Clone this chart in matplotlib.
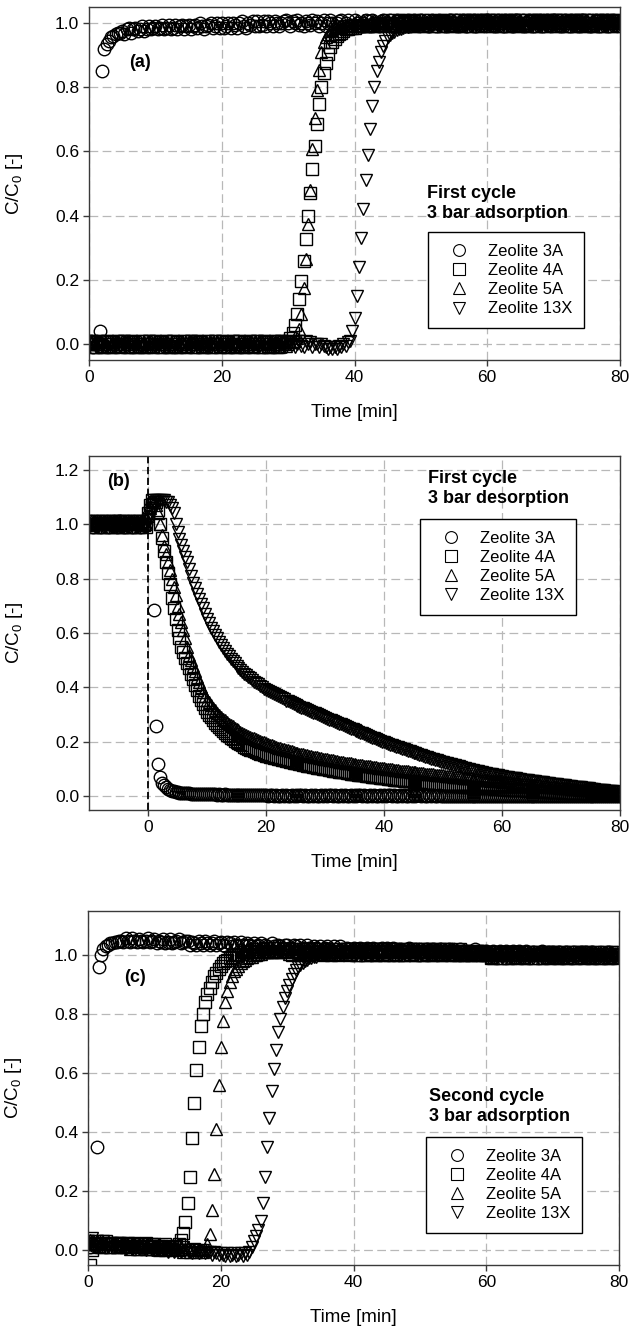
import numpy as np
import matplotlib
matplotlib.use('Agg')
import matplotlib.pyplot as plt

plt.rcParams['font.family'] = ['Liberation Sans', 'DejaVu Sans']
plt.rcParams['mathtext.fontset'] = 'custom'
plt.rcParams['mathtext.rm'] = 'Liberation Sans'

# ---------------- data (20 s sampling) ----------------
labels = ['Zeolite 3A', 'Zeolite 4A', 'Zeolite 5A', 'Zeolite 13X']

# time grid for the adsorption runs (a) and (c)
time_ads = [
    0, 0.33, 0.67, 1, 1.33, 1.67, 2, 2.33, 2.67, 3, 3.33, 3.67, 4, 4.33, 4.67,
    5, 5.33, 5.67, 6, 6.33, 6.67, 7, 7.33, 7.67, 8, 8.33, 8.67, 9, 9.33, 9.67,
    10, 10.33, 10.67, 11, 11.33, 11.67, 12, 12.33, 12.67, 13, 13.33, 13.67, 14, 14.33, 14.67,
    15, 15.33, 15.67, 16, 16.33, 16.67, 17, 17.33, 17.67, 18, 18.33, 18.67, 19, 19.33, 19.67,
    20, 20.33, 20.67, 21, 21.33, 21.67, 22, 22.33, 22.67, 23, 23.33, 23.67, 24, 24.33, 24.67,
    25, 25.33, 25.67, 26, 26.33, 26.67, 27, 27.33, 27.67, 28, 28.33, 28.67, 29, 29.33, 29.67,
    30, 30.33, 30.67, 31, 31.33, 31.67, 32, 32.33, 32.67, 33, 33.33, 33.67, 34, 34.33, 34.67,
    35, 35.33, 35.67, 36, 36.33, 36.67, 37, 37.33, 37.67, 38, 38.33, 38.67, 39, 39.33, 39.67,
    40, 40.33, 40.67, 41, 41.33, 41.67, 42, 42.33, 42.67, 43, 43.33, 43.67, 44, 44.33, 44.67,
    45, 45.33, 45.67, 46, 46.33, 46.67, 47, 47.33, 47.67, 48, 48.33, 48.67, 49, 49.33, 49.67,
    50, 50.33, 50.67, 51, 51.33, 51.67, 52, 52.33, 52.67, 53, 53.33, 53.67, 54, 54.33, 54.67,
    55, 55.33, 55.67, 56, 56.33, 56.67, 57, 57.33, 57.67, 58, 58.33, 58.67, 59, 59.33, 59.67,
    60, 60.33, 60.67, 61, 61.33, 61.67, 62, 62.33, 62.67, 63, 63.33, 63.67, 64, 64.33, 64.67,
    65, 65.33, 65.67, 66, 66.33, 66.67, 67, 67.33, 67.67, 68, 68.33, 68.67, 69, 69.33, 69.67,
    70, 70.33, 70.67, 71, 71.33, 71.67, 72, 72.33, 72.67, 73, 73.33, 73.67, 74, 74.33, 74.67,
    75, 75.33, 75.67, 76, 76.33, 76.67, 77, 77.33, 77.67, 78, 78.33, 78.67, 79, 79.33, 79.67,
    80]

# time grid for the desorption run (b)
time_des = [
    -10, -9.67, -9.33, -9, -8.67, -8.33, -8, -7.67, -7.33, -7, -6.67, -6.33, -6, -5.67, -5.33,
    -5, -4.67, -4.33, -4, -3.67, -3.33, -3, -2.67, -2.33, -2, -1.67, -1.33, -1, -0.67, -0.33,
] + time_ads

# (a) first cycle, 3 bar adsorption
a_3A = [
    0.00, 0.01, -0.01, 0.01, 0.00, 0.04, 0.85, 0.92, 0.935, 0.945, 0.955, 0.96, 0.965, 0.97, 0.97,
    0.975, 0.965, 0.98, 0.985, 0.97, 0.98, 0.985, 0.975, 0.98, 0.99, 0.975, 0.98, 0.99, 0.98, 0.985,
    0.99, 0.98, 0.985, 0.995, 0.98, 0.985, 0.995, 0.98, 0.985, 0.995, 0.98, 0.99, 0.995, 0.98, 0.99,
    0.995, 0.98, 0.99, 0.995, 0.985, 1.00, 0.99, 0.98, 0.99, 0.995, 1.00, 0.985, 0.99, 1.00, 0.985,
    1.00, 0.985, 0.99, 1.00, 0.985, 1.00, 0.995, 0.985, 1.00, 1.005, 0.99, 0.985, 1.00, 0.995, 1.005,
    0.99, 1.005, 0.99, 0.995, 1.005, 0.99, 1.005, 1.00, 0.99, 1.005, 1.00, 0.99, 1.00, 1.005, 1.01,
    1.00, 0.99, 1.005, 1.00, 1.01, 0.995, 1.00, 0.99, 1.005, 1.00, 0.995, 1.01, 1.00, 1.005, 0.99,
    1.00, 1.01, 0.99, 1.00, 1.01, 1.00, 0.99, 1.00, 1.005, 1.01, 0.99, 1.00, 1.01, 0.995, 0.99,
    1.01, 1.00, 0.995, 0.99, 1.00, 1.01, 1.005, 0.99, 1.01, 1.00, 1.00, 0.99, 1.005, 1.01, 1.00,
    1.00, 1.01, 0.99, 1.00, 1.01, 1.00, 0.99, 1.00, 1.005, 1.01, 0.99, 1.00, 1.01, 0.995, 0.99,
    1.01, 1.00, 0.995, 0.99, 1.00, 1.01, 1.005, 0.99, 1.01, 1.00, 1.00, 0.99, 1.005, 1.01, 1.00,
    1.00, 1.01, 0.99, 1.00, 1.01, 1.00, 0.99, 1.00, 1.005, 1.01, 0.99, 1.00, 1.01, 0.995, 0.99,
    1.01, 1.00, 0.995, 0.99, 1.00, 1.01, 1.005, 0.99, 1.01, 1.00, 1.00, 0.99, 1.005, 1.01, 1.00,
    1.00, 1.01, 0.99, 1.00, 1.01, 1.00, 0.99, 1.00, 1.005, 1.01, 0.99, 1.00, 1.01, 0.995, 0.99,
    1.01, 1.00, 0.995, 0.99, 1.00, 1.01, 1.005, 0.99, 1.01, 1.00, 1.00, 0.99, 1.005, 1.01, 1.00,
    1.00, 1.01, 0.99, 1.00, 1.01, 1.00, 0.99, 1.00, 1.005, 1.01, 0.99, 1.00, 1.01, 0.995, 0.99,
    1.00]
a_4A = [
    0.01, 0.00, 0.005, -0.01, 0.00, 0.01, -0.005, -0.01, 0.01, 0.00, 0.005, -0.01, 0.00, 0.01, -0.005,
    0.00, 0.01, -0.01, 0.00, 0.01, 0.005, -0.01, 0.00, -0.005, 0.01, -0.01, 0.00, 0.01, 0.00, -0.01,
    0.01, 0.00, 0.005, -0.01, 0.00, 0.01, -0.005, -0.01, 0.01, 0.00, 0.005, -0.01, 0.00, 0.01, -0.005,
    0.00, 0.01, -0.01, 0.00, 0.01, 0.005, -0.01, 0.00, -0.005, 0.01, -0.01, 0.00, 0.01, 0.00, -0.01,
    0.01, 0.00, 0.005, -0.01, 0.00, 0.01, -0.005, -0.01, 0.01, 0.00, 0.005, -0.01, 0.00, 0.01, -0.005,
    0.00, 0.01, -0.01, 0.00, 0.01, 0.005, -0.01, 0.00, -0.005, 0.01, -0.01, 0.00, 0.01, 0.005, 0.005,
    0.01, 0.02, 0.035, 0.06, 0.093, 0.14, 0.196, 0.26, 0.326, 0.40, 0.47, 0.544, 0.617, 0.684, 0.747,
    0.80, 0.845, 0.876, 0.905, 0.925, 0.94, 0.95, 0.96, 0.965, 0.97, 0.975, 0.98, 0.98, 0.985, 0.985,
    0.985, 0.99, 0.99, 0.99, 0.99, 0.995, 0.99, 0.995, 0.995, 0.99, 0.995, 1.00, 0.995, 1.00, 0.995,
    1.01, 1.00, 0.995, 0.99, 1.00, 1.01, 1.005, 0.99, 1.01, 1.00, 1.00, 0.99, 1.005, 1.01, 1.00,
    1.00, 1.01, 0.99, 1.00, 1.01, 1.00, 0.99, 1.00, 1.005, 1.01, 0.99, 1.00, 1.01, 0.995, 0.99,
    1.01, 1.00, 0.995, 0.99, 1.00, 1.01, 1.005, 0.99, 1.01, 1.00, 1.00, 0.99, 1.005, 1.01, 1.00,
    1.00, 1.01, 0.99, 1.00, 1.01, 1.00, 0.99, 1.00, 1.005, 1.01, 0.99, 1.00, 1.01, 0.995, 0.99,
    1.01, 1.00, 0.995, 0.99, 1.00, 1.01, 1.005, 0.99, 1.01, 1.00, 1.00, 0.99, 1.005, 1.01, 1.00,
    1.00, 1.01, 0.99, 1.00, 1.01, 1.00, 0.99, 1.00, 1.005, 1.01, 0.99, 1.00, 1.01, 0.995, 0.99,
    1.01, 1.00, 0.995, 0.99, 1.00, 1.01, 1.005, 0.99, 1.01, 1.00, 1.00, 0.99, 1.005, 1.01, 1.00,
    1.00]
a_5A = [
    0.00, 0.01, -0.01, 0.00, 0.01, 0.005, -0.01, 0.00, -0.005, 0.01, -0.01, 0.00, 0.01, 0.00, -0.01,
    0.01, 0.00, 0.005, -0.01, 0.00, 0.01, -0.005, -0.01, 0.01, 0.00, 0.005, -0.01, 0.00, 0.01, -0.005,
    0.00, 0.01, -0.01, 0.00, 0.01, 0.005, -0.01, 0.00, -0.005, 0.01, -0.01, 0.00, 0.01, 0.00, -0.01,
    0.01, 0.00, 0.005, -0.01, 0.00, 0.01, -0.005, -0.01, 0.01, 0.00, 0.005, -0.01, 0.00, 0.01, -0.005,
    0.00, 0.01, -0.01, 0.00, 0.01, 0.005, -0.01, 0.00, -0.005, 0.01, -0.01, 0.00, 0.01, 0.00, -0.01,
    0.01, 0.00, 0.005, -0.01, 0.00, 0.01, -0.005, -0.01, 0.01, 0.00, 0.005, -0.01, 0.00, 0.01, -0.005,
    0.00, 0.005, 0.005, 0.01, 0.02, 0.046, 0.093, 0.175, 0.264, 0.373, 0.48, 0.607, 0.705, 0.79, 0.855,
    0.91, 0.94, 0.955, 0.965, 0.975, 0.98, 0.985, 0.985, 0.99, 0.99, 0.99, 0.995, 0.99, 0.995, 0.995,
    1.00, 1.01, 0.99, 1.00, 1.01, 1.00, 0.99, 1.00, 1.005, 1.01, 0.99, 1.00, 1.01, 0.995, 0.99,
    1.01, 1.00, 0.995, 0.99, 1.00, 1.01, 1.005, 0.99, 1.01, 1.00, 1.00, 0.99, 1.005, 1.01, 1.00,
    1.00, 1.01, 0.99, 1.00, 1.01, 1.00, 0.99, 1.00, 1.005, 1.01, 0.99, 1.00, 1.01, 0.995, 0.99,
    1.01, 1.00, 0.995, 0.99, 1.00, 1.01, 1.005, 0.99, 1.01, 1.00, 1.00, 0.99, 1.005, 1.01, 1.00,
    1.00, 1.01, 0.99, 1.00, 1.01, 1.00, 0.99, 1.00, 1.005, 1.01, 0.99, 1.00, 1.01, 0.995, 0.99,
    1.01, 1.00, 0.995, 0.99, 1.00, 1.01, 1.005, 0.99, 1.01, 1.00, 1.00, 0.99, 1.005, 1.01, 1.00,
    1.00, 1.01, 0.99, 1.00, 1.01, 1.00, 0.99, 1.00, 1.005, 1.01, 0.99, 1.00, 1.01, 0.995, 0.99,
    1.01, 1.00, 0.995, 0.99, 1.00, 1.01, 1.005, 0.99, 1.01, 1.00, 1.00, 0.99, 1.005, 1.01, 1.00,
    1.00]
a_13X = [
    0.01, 0.00, 0.005, -0.01, 0.00, 0.01, -0.005, -0.01, 0.01, 0.00, 0.005, -0.01, 0.00, 0.01, -0.005,
    0.00, 0.01, -0.01, 0.00, 0.01, 0.005, -0.01, 0.00, -0.005, 0.01, -0.01, 0.00, 0.01, 0.00, -0.01,
    0.01, 0.00, 0.005, -0.01, 0.00, 0.01, -0.005, -0.01, 0.01, 0.00, 0.005, -0.01, 0.00, 0.01, -0.005,
    0.00, 0.01, -0.01, 0.00, 0.01, 0.005, -0.01, 0.00, -0.005, 0.01, -0.01, 0.00, 0.01, 0.00, -0.01,
    0.01, 0.00, 0.005, -0.01, 0.00, 0.01, -0.005, -0.01, 0.01, 0.00, 0.005, -0.01, 0.00, 0.01, -0.005,
    0.00, 0.01, -0.01, 0.00, 0.01, 0.005, -0.01, 0.00, -0.005, 0.01, -0.01, 0.00, 0.01, 0.00, -0.01,
    0.01, 0.00, 0.005, -0.01, 0.00, 0.01, -0.005, -0.01, 0.01, 0.00, 0.005, -0.01, 0.00, 0.00, -0.01,
    0.00, -0.005, -0.01, -0.015, -0.01, -0.015, -0.01, -0.015, -0.005, -0.01, 0.00, -0.005, 0.005, 0.01, 0.04,
    0.08, 0.15, 0.24, 0.33, 0.42, 0.51, 0.59, 0.67, 0.74, 0.80, 0.85, 0.88, 0.91, 0.93, 0.945,
    0.955, 0.962, 0.968, 0.973, 0.977, 0.98, 0.983, 0.985, 0.987, 0.989, 0.99, 0.991, 0.992, 0.993, 0.994,
    0.995, 0.995, 0.996, 0.996, 0.997, 0.997, 0.998, 0.998, 0.998, 0.999, 0.999, 0.999, 1.00, 1.00, 1.00,
    1.01, 1.00, 0.995, 0.99, 1.00, 1.01, 1.005, 0.99, 1.01, 1.00, 1.00, 0.99, 1.005, 1.01, 1.00,
    1.00, 1.01, 0.99, 1.00, 1.01, 1.00, 0.99, 1.00, 1.005, 1.01, 0.99, 1.00, 1.01, 0.995, 0.99,
    1.01, 1.00, 0.995, 0.99, 1.00, 1.01, 1.005, 0.99, 1.01, 1.00, 1.00, 0.99, 1.005, 1.01, 1.00,
    1.00, 1.01, 0.99, 1.00, 1.01, 1.00, 0.99, 1.00, 1.005, 1.01, 0.99, 1.00, 1.01, 0.995, 0.99,
    1.01, 1.00, 0.995, 0.99, 1.00, 1.01, 1.005, 0.99, 1.01, 1.00, 1.00, 0.99, 1.005, 1.01, 1.00,
    1.00]

# (b) first cycle, 3 bar desorption
b_3A = [
    1.00, 1.01, 0.99, 1.00, 1.01, 1.00, 0.99, 1.00, 1.005, 1.01, 0.99, 1.00, 1.01, 0.995, 0.99,
    1.01, 1.00, 0.995, 0.99, 1.00, 1.01, 1.005, 0.99, 1.01, 1.00, 1.00, 0.99, 1.005, 1.01, 1.00,
    1.03, 1.06, 1.08, 0.686, 0.26, 0.12, 0.07, 0.05, 0.04, 0.033, 0.028, 0.024, 0.021, 0.019, 0.017,
    0.015, 0.014, 0.013, 0.012, 0.012, 0.011, 0.011, 0.010, 0.010, 0.010, 0.009, 0.009, 0.009, 0.008, 0.008,
    0.008, 0.007, 0.008, 0.007, 0.007, 0.006, 0.007, 0.006, 0.006, 0.007, 0.006, 0.006, 0.005, 0.006, 0.006,
    0.005, 0.006, 0.005, 0.005, 0.006, 0.005, 0.005, 0.004, 0.005, 0.005, 0.004, 0.005, 0.004, 0.004, 0.005,
    0.004, 0.003, 0.004, 0.004, 0.003, 0.004, 0.003, 0.003, 0.004, 0.003, 0.004, 0.003, 0.003, 0.004, 0.003,
    0.004, 0.003, 0.004, 0.004, 0.003, 0.004, 0.003, 0.003, 0.004, 0.003, 0.004, 0.003, 0.003, 0.004, 0.003,
    0.004, 0.003, 0.004, 0.004, 0.003, 0.004, 0.003, 0.003, 0.004, 0.003, 0.004, 0.003, 0.003, 0.004, 0.003,
    0.004, 0.003, 0.004, 0.004, 0.003, 0.004, 0.003, 0.003, 0.004, 0.003, 0.004, 0.003, 0.003, 0.004, 0.003,
    0.004, 0.003, 0.004, 0.004, 0.003, 0.004, 0.003, 0.003, 0.004, 0.003, 0.004, 0.003, 0.003, 0.004, 0.003,
    0.004, 0.003, 0.004, 0.004, 0.003, 0.004, 0.003, 0.003, 0.004, 0.003, 0.004, 0.003, 0.003, 0.004, 0.003,
    0.003, 0.002, 0.003, 0.002, 0.003, 0.003, 0.002, 0.003, 0.002, 0.002, 0.003, 0.002, 0.003, 0.002, 0.002,
    0.003, 0.002, 0.003, 0.002, 0.003, 0.003, 0.002, 0.003, 0.002, 0.002, 0.003, 0.002, 0.003, 0.002, 0.002,
    0.003, 0.002, 0.003, 0.002, 0.003, 0.003, 0.002, 0.003, 0.002, 0.002, 0.003, 0.002, 0.003, 0.002, 0.002,
    0.003, 0.002, 0.003, 0.002, 0.003, 0.003, 0.002, 0.003, 0.002, 0.002, 0.003, 0.002, 0.003, 0.002, 0.002,
    0.003, 0.002, 0.003, 0.002, 0.003, 0.003, 0.002, 0.003, 0.002, 0.002, 0.003, 0.002, 0.003, 0.002, 0.002,
    0.003, 0.002, 0.003, 0.002, 0.003, 0.003, 0.002, 0.003, 0.002, 0.002, 0.003, 0.002, 0.003, 0.002, 0.002,
    0.002]
b_4A = [
    1.01, 1.00, 0.995, 0.99, 1.00, 1.01, 1.005, 0.99, 1.01, 1.00, 1.00, 0.99, 1.005, 1.01, 1.00,
    1.00, 1.01, 0.99, 1.00, 1.01, 1.00, 0.99, 1.00, 1.005, 1.01, 0.99, 1.00, 1.01, 0.995, 0.99,
    1.04, 1.07, 1.09, 1.09, 1.08, 1.05, 1.00, 0.95, 0.90, 0.86, 0.82, 0.78, 0.73, 0.69, 0.65,
    0.61, 0.58, 0.55, 0.53, 0.51, 0.49, 0.47, 0.45, 0.43, 0.41, 0.39, 0.37, 0.355, 0.34, 0.325,
    0.31, 0.30, 0.29, 0.28, 0.27, 0.262, 0.254, 0.246, 0.239, 0.232, 0.226, 0.22, 0.214, 0.209, 0.204,
    0.199, 0.195, 0.191, 0.187, 0.183, 0.179, 0.175, 0.172, 0.169, 0.166, 0.163, 0.16, 0.157, 0.155, 0.152,
    0.15, 0.148, 0.146, 0.144, 0.142, 0.14, 0.138, 0.136, 0.134, 0.132, 0.131, 0.129, 0.127, 0.126, 0.124,
    0.122, 0.121, 0.119, 0.118, 0.116, 0.115, 0.113, 0.112, 0.11, 0.109, 0.107, 0.106, 0.105, 0.103, 0.102,
    0.10, 0.099, 0.098, 0.096, 0.095, 0.094, 0.092, 0.091, 0.09, 0.089, 0.088, 0.086, 0.085, 0.084, 0.083,
    0.082, 0.081, 0.08, 0.079, 0.078, 0.077, 0.076, 0.075, 0.074, 0.073, 0.072, 0.071, 0.07, 0.069, 0.068,
    0.067, 0.066, 0.065, 0.064, 0.063, 0.062, 0.061, 0.061, 0.06, 0.059, 0.058, 0.057, 0.056, 0.056, 0.055,
    0.054, 0.053, 0.052, 0.052, 0.051, 0.05, 0.049, 0.049, 0.048, 0.047, 0.046, 0.046, 0.045, 0.044, 0.044,
    0.043, 0.042, 0.042, 0.041, 0.04, 0.04, 0.039, 0.038, 0.038, 0.037, 0.037, 0.036, 0.035, 0.035, 0.034,
    0.034, 0.033, 0.033, 0.032, 0.032, 0.031, 0.031, 0.03, 0.03, 0.029, 0.029, 0.028, 0.028, 0.027, 0.027,
    0.026, 0.026, 0.025, 0.025, 0.025, 0.024, 0.024, 0.023, 0.023, 0.022, 0.022, 0.022, 0.021, 0.021, 0.02,
    0.02, 0.02, 0.019, 0.019, 0.019, 0.018, 0.018, 0.017, 0.017, 0.017, 0.016, 0.016, 0.016, 0.015, 0.015,
    0.015, 0.014, 0.014, 0.014, 0.013, 0.013, 0.013, 0.012, 0.012, 0.012, 0.011, 0.011, 0.011, 0.01, 0.01,
    0.01, 0.01, 0.009, 0.009, 0.009, 0.008, 0.008, 0.008, 0.008, 0.007, 0.007, 0.007, 0.006, 0.006, 0.006,
    0.006]
b_5A = [
    1.00, 1.01, 0.99, 1.00, 1.01, 1.00, 0.99, 1.00, 1.005, 1.01, 0.99, 1.00, 1.01, 0.995, 0.99,
    1.01, 1.00, 0.995, 0.99, 1.00, 1.01, 1.005, 0.99, 1.01, 1.00, 1.00, 0.99, 1.005, 1.01, 1.00,
    1.03, 1.06, 1.08, 1.08, 1.07, 1.04, 1.00, 0.96, 0.92, 0.89, 0.86, 0.83, 0.80, 0.77, 0.74,
    0.70, 0.67, 0.64, 0.61, 0.58, 0.55, 0.52, 0.50, 0.48, 0.46, 0.44, 0.42, 0.40, 0.385, 0.37,
    0.355, 0.345, 0.335, 0.325, 0.316, 0.308, 0.30, 0.293, 0.286, 0.279, 0.273, 0.267, 0.262, 0.257, 0.252,
    0.247, 0.243, 0.238, 0.234, 0.23, 0.226, 0.222, 0.219, 0.216, 0.213, 0.21, 0.207, 0.204, 0.201, 0.198,
    0.195, 0.192, 0.189, 0.187, 0.184, 0.182, 0.179, 0.177, 0.175, 0.173, 0.171, 0.169, 0.167, 0.165, 0.163,
    0.161, 0.159, 0.157, 0.156, 0.154, 0.152, 0.151, 0.149, 0.147, 0.146, 0.144, 0.143, 0.141, 0.14, 0.138,
    0.137, 0.136, 0.134, 0.133, 0.132, 0.13, 0.129, 0.128, 0.127, 0.125, 0.124, 0.123, 0.122, 0.121, 0.119,
    0.118, 0.117, 0.116, 0.115, 0.114, 0.113, 0.112, 0.111, 0.11, 0.109, 0.108, 0.107, 0.106, 0.105, 0.104,
    0.103, 0.102, 0.101, 0.10, 0.099, 0.098, 0.097, 0.096, 0.095, 0.094, 0.094, 0.093, 0.092, 0.091, 0.09,
    0.089, 0.088, 0.087, 0.087, 0.086, 0.085, 0.084, 0.083, 0.082, 0.082, 0.081, 0.08, 0.079, 0.078, 0.078,
    0.077, 0.076, 0.075, 0.074, 0.074, 0.073, 0.072, 0.071, 0.07, 0.07, 0.069, 0.068, 0.067, 0.067, 0.066,
    0.065, 0.064, 0.064, 0.063, 0.062, 0.061, 0.061, 0.06, 0.059, 0.058, 0.058, 0.057, 0.056, 0.055, 0.055,
    0.054, 0.053, 0.052, 0.052, 0.051, 0.05, 0.049, 0.049, 0.048, 0.047, 0.046, 0.046, 0.045, 0.044, 0.043,
    0.043, 0.042, 0.041, 0.04, 0.04, 0.039, 0.038, 0.037, 0.037, 0.036, 0.035, 0.034, 0.034, 0.033, 0.032,
    0.032, 0.031, 0.03, 0.03, 0.029, 0.028, 0.027, 0.027, 0.026, 0.025, 0.025, 0.024, 0.023, 0.022, 0.022,
    0.021, 0.02, 0.02, 0.019, 0.018, 0.018, 0.017, 0.016, 0.016, 0.015, 0.014, 0.014, 0.013, 0.012, 0.012,
    0.011]
b_13X = [
    1.01, 1.00, 0.995, 0.99, 1.00, 1.01, 1.005, 0.99, 1.01, 1.00, 1.00, 0.99, 1.005, 1.01, 1.00,
    1.00, 1.01, 0.99, 1.00, 1.01, 1.00, 0.99, 1.00, 1.005, 1.01, 0.99, 1.00, 1.01, 0.995, 0.99,
    1.02, 1.04, 1.06, 1.08, 1.09, 1.09, 1.09, 1.09, 1.09, 1.08, 1.08, 1.07, 1.06, 1.04, 1.00,
    0.97, 0.945, 0.925, 0.90, 0.88, 0.86, 0.835, 0.81, 0.785, 0.765, 0.745, 0.725, 0.705, 0.69, 0.67,
    0.65, 0.635, 0.62, 0.606, 0.593, 0.58, 0.568, 0.556, 0.545, 0.534, 0.524, 0.514, 0.505, 0.496, 0.488,
    0.48, 0.472, 0.465, 0.458, 0.451, 0.445, 0.439, 0.433, 0.427, 0.421, 0.416, 0.411, 0.406, 0.401, 0.396,
    0.392, 0.388, 0.384, 0.38, 0.376, 0.372, 0.368, 0.364, 0.36, 0.356, 0.352, 0.349, 0.345, 0.342, 0.338,
    0.335, 0.332, 0.329, 0.326, 0.323, 0.32, 0.317, 0.314, 0.311, 0.308, 0.305, 0.302, 0.299, 0.296, 0.293,
    0.288, 0.285, 0.282, 0.279, 0.276, 0.273, 0.27, 0.267, 0.264, 0.261, 0.258, 0.255, 0.252, 0.249, 0.246,
    0.243, 0.24, 0.237, 0.234, 0.231, 0.228, 0.225, 0.222, 0.219, 0.216, 0.213, 0.21, 0.207, 0.204, 0.201,
    0.198, 0.195, 0.193, 0.19, 0.188, 0.185, 0.183, 0.18, 0.178, 0.175, 0.173, 0.17, 0.168, 0.165, 0.163,
    0.16, 0.158, 0.155, 0.153, 0.151, 0.148, 0.146, 0.144, 0.141, 0.139, 0.137, 0.134, 0.132, 0.13, 0.128,
    0.126, 0.124, 0.122, 0.12, 0.118, 0.116, 0.114, 0.112, 0.11, 0.108, 0.106, 0.104, 0.102, 0.10, 0.098,
    0.097, 0.095, 0.093, 0.092, 0.09, 0.089, 0.087, 0.086, 0.084, 0.083, 0.081, 0.08, 0.078, 0.077, 0.075,
    0.074, 0.073, 0.072, 0.07, 0.069, 0.068, 0.067, 0.066, 0.064, 0.063, 0.062, 0.061, 0.06, 0.059, 0.058,
    0.057, 0.056, 0.055, 0.054, 0.053, 0.052, 0.051, 0.05, 0.049, 0.048, 0.047, 0.046, 0.045, 0.044, 0.043,
    0.042, 0.041, 0.04, 0.039, 0.038, 0.037, 0.036, 0.035, 0.034, 0.034, 0.033, 0.032, 0.031, 0.03, 0.029,
    0.028, 0.027, 0.026, 0.025, 0.024, 0.024, 0.023, 0.022, 0.021, 0.02, 0.019, 0.019, 0.018, 0.017, 0.016,
    0.015]

# (c) second cycle, 3 bar adsorption
c_3A = [
    0.02, 0.01, 0.025, 0.015, 0.35, 0.96, 1.00, 1.02, 1.03, 1.035, 1.04, 1.04, 1.045, 1.045, 1.05,
    1.05, 1.045, 1.06, 1.05, 1.045, 1.06, 1.05, 1.045, 1.055, 1.05, 1.045, 1.05, 1.06, 1.045, 1.05,
    1.055, 1.04, 1.05, 1.045, 1.055, 1.04, 1.045, 1.055, 1.04, 1.045, 1.05, 1.055, 1.04, 1.045, 1.05,
    1.05, 1.035, 1.045, 1.04, 1.035, 1.05, 1.04, 1.035, 1.05, 1.04, 1.035, 1.04, 1.05, 1.035, 1.04,
    1.045, 1.035, 1.03, 1.045, 1.04, 1.03, 1.045, 1.035, 1.03, 1.045, 1.035, 1.03, 1.04, 1.035, 1.03,
    1.04, 1.03, 1.035, 1.04, 1.025, 1.035, 1.03, 1.025, 1.04, 1.03, 1.025, 1.035, 1.03, 1.025, 1.035,
    1.035, 1.025, 1.025, 1.035, 1.03, 1.02, 1.035, 1.025, 1.02, 1.035, 1.025, 1.02, 1.03, 1.025, 1.02,
    1.03, 1.02, 1.025, 1.03, 1.02, 1.015, 1.03, 1.02, 1.015, 1.03, 1.02, 1.015, 1.025, 1.02, 1.015,
    1.025, 1.02, 1.015, 1.025, 1.02, 1.01, 1.025, 1.015, 1.02, 1.025, 1.01, 1.02, 1.015, 1.025, 1.01,
    1.025, 1.015, 1.01, 1.025, 1.015, 1.01, 1.02, 1.015, 1.01, 1.015, 1.025, 1.01, 1.015, 1.02, 1.01,
    1.02, 1.015, 1.005, 1.02, 1.015, 1.005, 1.02, 1.015, 1.005, 1.02, 1.01, 1.015, 1.005, 1.02, 1.01,
    1.02, 1.01, 1.005, 1.02, 1.01, 1.005, 1.015, 1.01, 1.005, 1.01, 1.02, 1.005, 1.01, 1.015, 1.005,
    1.015, 1.01, 1.00, 1.015, 1.01, 1.00, 1.015, 1.01, 1.00, 1.015, 1.005, 1.01, 1.015, 1.00, 1.01,
    1.015, 1.005, 1.00, 1.015, 1.005, 1.00, 1.01, 1.005, 1.00, 1.005, 1.015, 1.00, 1.005, 1.01, 1.00,
    1.01, 1.005, 0.995, 1.01, 1.005, 0.995, 1.01, 1.005, 0.995, 1.01, 1.00, 1.005, 0.995, 1.01, 1.00,
    1.01, 1.00, 0.995, 1.01, 1.00, 0.995, 1.005, 1.00, 0.995, 1.00, 1.01, 0.995, 1.00, 1.005, 0.995,
    1.00]
c_4A = [
    0.03, -0.05, 0.00, 0.02, 0.03, 0.015, 0.01, 0.025, 0.03, 0.02, 0.01, 0.025, 0.02, 0.01, 0.025,
    0.025, 0.01, 0.015, 0.025, 0.01, 0.015, 0.025, 0.015, 0.005, 0.02, 0.015, 0.025, 0.01, 0.005, 0.02,
    0.02, 0.005, 0.015, 0.01, 0.005, 0.02, 0.01, 0.005, 0.015, 0.01, 0.015, 0.02, 0.035, 0.06, 0.095,
    0.16, 0.25, 0.38, 0.50, 0.61, 0.69, 0.76, 0.80, 0.84, 0.87, 0.89, 0.91, 0.93, 0.94, 0.955,
    0.965, 0.975, 0.98, 0.985, 0.99, 0.995, 1.00, 1.00, 1.005, 1.005, 1.01, 1.01, 1.01, 1.015, 1.01,
    1.015, 1.02, 1.005, 1.015, 1.02, 1.025, 1.01, 1.015, 1.025, 1.01, 1.015, 1.025, 1.01, 1.02, 1.015,
    1.01, 1.02, 1.00, 1.01, 1.02, 1.01, 1.00, 1.015, 1.005, 1.02, 1.00, 1.01, 1.02, 1.005, 1.01,
    1.015, 1.00, 1.01, 1.02, 1.005, 1.00, 1.015, 1.02, 1.00, 1.01, 1.015, 1.005, 1.02, 1.00, 1.01,
    1.01, 1.02, 1.00, 1.01, 1.02, 1.01, 1.00, 1.015, 1.005, 1.02, 1.00, 1.01, 1.02, 1.005, 1.01,
    1.015, 1.00, 1.01, 1.02, 1.005, 1.00, 1.015, 1.02, 1.00, 1.01, 1.015, 1.005, 1.02, 1.00, 1.01,
    1.01, 1.02, 1.00, 1.01, 1.02, 1.01, 1.00, 1.015, 1.005, 1.02, 1.00, 1.01, 1.02, 1.005, 1.01,
    1.015, 1.00, 1.01, 1.02, 1.005, 1.00, 1.015, 1.01, 1.00, 1.01, 1.015, 1.005, 1.01, 1.00, 1.01,
    1.00, 1.01, 0.99, 1.00, 1.01, 1.00, 0.99, 1.00, 1.005, 1.01, 0.99, 1.00, 1.01, 0.995, 0.99,
    1.01, 1.00, 0.995, 0.99, 1.00, 1.01, 1.005, 0.99, 1.01, 1.00, 1.00, 0.99, 1.005, 1.01, 1.00,
    1.00, 1.01, 0.99, 1.00, 1.01, 1.00, 0.99, 1.00, 1.005, 1.01, 0.99, 1.00, 1.01, 0.995, 0.99,
    1.01, 1.00, 0.995, 0.99, 1.00, 1.01, 1.005, 0.99, 1.01, 1.00, 1.00, 0.99, 1.005, 1.01, 1.00,
    1.00]
c_5A = [
    0.02, 0.035, 0.01, 0.02, 0.03, 0.015, 0.025, 0.01, 0.02, 0.025, 0.01, 0.02, 0.025, 0.01, 0.015,
    0.02, 0.025, 0.01, 0.015, 0.005, 0.02, 0.015, 0.005, 0.02, 0.01, 0.02, 0.005, 0.01, 0.02, 0.005,
    0.015, 0.01, 0.00, 0.015, 0.01, 0.00, 0.015, 0.005, 0.00, 0.01, 0.005, 0.00, 0.01, -0.005, 0.005,
    0.01, -0.005, 0.005, 0.00, -0.005, 0.005, 0.00, -0.005, 0.005, 0.02, 0.056, 0.136, 0.26, 0.41, 0.56,
    0.69, 0.776, 0.843, 0.88, 0.91, 0.93, 0.945, 0.955, 0.965, 0.975, 0.98, 0.985, 0.99, 0.995, 0.995,
    1.00, 1.00, 1.005, 1.005, 1.01, 1.01, 1.01, 1.015, 1.01, 1.015, 1.015, 1.01, 1.015, 1.015, 1.015,
    1.02, 1.005, 1.015, 1.025, 1.015, 1.005, 1.02, 1.015, 1.025, 1.01, 1.005, 1.02, 1.015, 1.025, 1.01,
    1.005, 1.02, 1.015, 1.005, 1.02, 1.025, 1.01, 1.005, 1.02, 1.015, 1.005, 1.02, 1.01, 1.015, 1.005,
    1.01, 1.00, 1.01, 1.02, 1.01, 1.00, 1.015, 1.01, 1.02, 1.01, 1.00, 1.015, 1.01, 1.02, 1.00,
    1.01, 1.02, 1.01, 1.00, 1.015, 1.01, 1.02, 1.01, 1.00, 1.015, 1.02, 1.01, 1.01, 1.00, 1.015,
    1.01, 1.00, 1.01, 1.02, 1.01, 1.00, 1.015, 1.01, 1.02, 1.01, 1.00, 1.015, 1.01, 1.02, 1.00,
    1.005, 1.015, 1.00, 1.01, 1.005, 1.00, 1.015, 1.005, 1.00, 1.01, 1.005, 1.00, 1.015, 1.005, 1.00,
    1.01, 1.00, 0.995, 0.99, 1.00, 1.01, 1.005, 0.99, 1.01, 1.00, 1.00, 0.99, 1.005, 1.01, 1.00,
    1.00, 1.01, 0.99, 1.00, 1.01, 1.00, 0.99, 1.00, 1.005, 1.01, 0.99, 1.00, 1.01, 0.995, 0.99,
    1.01, 1.00, 0.995, 0.99, 1.00, 1.01, 1.005, 0.99, 1.01, 1.00, 1.00, 0.99, 1.005, 1.01, 1.00,
    1.00, 1.01, 0.99, 1.00, 1.01, 1.00, 0.99, 1.00, 1.005, 1.01, 0.99, 1.00, 1.01, 0.995, 0.99,
    1.00]
c_13X = [
    0.03, 0.02, 0.04, 0.015, 0.03, 0.02, 0.01, 0.03, 0.02, 0.01, 0.025, 0.02, 0.01, 0.025, 0.015,
    0.02, 0.01, 0.005, 0.02, 0.015, 0.005, 0.015, 0.02, 0.005, 0.01, 0.015, 0.00, 0.01, 0.015, 0.00,
    0.015, 0.00, 0.005, 0.015, 0.00, 0.005, -0.005, 0.01, 0.005, -0.005, 0.01, 0.00, -0.005, 0.01, 0.00,
    0.00, -0.005, -0.01, 0.005, 0.00, -0.01, -0.005, 0.00, -0.01, -0.005, -0.005, -0.015, -0.005, -0.01, -0.015,
    -0.01, -0.015, -0.02, -0.01, -0.02, -0.015, -0.01, -0.02, -0.015, -0.01, -0.02, -0.01, -0.015, -0.005, 0.01,
    0.03, 0.05, 0.07, 0.10, 0.16, 0.25, 0.35, 0.45, 0.54, 0.615, 0.68, 0.74, 0.785, 0.825, 0.855,
    0.88, 0.90, 0.92, 0.935, 0.95, 0.96, 0.968, 0.975, 0.98, 0.985, 0.99, 0.99, 0.995, 0.995, 1.00,
    1.00, 1.005, 1.00, 1.005, 1.005, 1.01, 1.005, 1.01, 1.01, 1.005, 1.01, 1.01, 1.01, 1.01, 1.01,
    1.015, 1.005, 1.01, 1.02, 1.005, 1.00, 1.015, 1.02, 1.00, 1.01, 1.015, 1.005, 1.02, 1.00, 1.01,
    1.01, 1.02, 1.00, 1.01, 1.02, 1.01, 1.00, 1.015, 1.005, 1.02, 1.00, 1.01, 1.02, 1.005, 1.01,
    1.015, 1.005, 1.01, 1.02, 1.005, 1.00, 1.015, 1.02, 1.00, 1.01, 1.015, 1.005, 1.02, 1.00, 1.01,
    1.01, 1.00, 1.015, 1.005, 1.01, 1.015, 1.00, 1.005, 1.015, 1.00, 1.01, 1.005, 1.00, 1.015, 1.005,
    1.01, 1.00, 0.995, 0.99, 1.00, 1.01, 1.005, 0.99, 1.01, 1.00, 1.00, 0.99, 1.005, 1.01, 1.00,
    1.00, 1.01, 0.99, 1.00, 1.01, 1.00, 0.99, 1.00, 1.005, 1.01, 0.99, 1.00, 1.01, 0.995, 0.99,
    1.01, 1.00, 0.995, 0.99, 1.00, 1.01, 1.005, 0.99, 1.01, 1.00, 1.00, 0.99, 1.005, 1.01, 1.00,
    1.00, 1.01, 0.99, 1.00, 1.01, 1.00, 0.99, 1.00, 1.005, 1.01, 0.99, 1.00, 1.01, 0.995, 0.99,
    1.00]

for name, s in [('a_3A', a_3A), ('a_4A', a_4A), ('a_5A', a_5A), ('a_13X', a_13X),
                ('b_3A', b_3A), ('b_4A', b_4A), ('b_5A', b_5A), ('b_13X', b_13X),
                ('c_3A', c_3A), ('c_4A', c_4A), ('c_5A', c_5A), ('c_13X', c_13X)]:
    print(name, len(s))
print('time', len(time_ads), len(time_des))

# ---------------- figure ----------------
W, H = 630, 1331
fig = plt.figure(figsize=(W / 100, H / 100), dpi=100)

def add_ax(left, top, right, bottom):
    return fig.add_axes([left / W, 1 - bottom / H, (right - left) / W, (bottom - top) / H])

ax_a = add_ax(89, 7, 620, 360)
ax_b = add_ax(89, 456, 620, 810)
ax_c = add_ax(88, 911, 619, 1265)

markers = ['o', 's', '^', 'v']
spine_col = '#3a3a3a'

def style(ax, xlim, ylim, yticks):
    ax.set_xlim(*xlim)
    ax.set_ylim(*ylim)
    ax.set_xticks([0, 20, 40, 60, 80])
    ax.set_yticks(yticks)
    ax.grid(True, color='#b8b8b8', linestyle=(0, (7, 3.5)), linewidth=0.9)
    ax.set_axisbelow(True)
    for sp in ax.spines.values():
        sp.set_color(spine_col)
        sp.set_linewidth(1.0)
    ax.tick_params(direction='out', length=4, width=1, color=spine_col,
                   labelsize=12.5, pad=3)
    ax.set_xlabel('Time [min]', fontsize=13.5)
    ax.set_ylabel(r'$\mathregular{C/C_0}$ [-]', fontsize=13.5)
    ax.xaxis.set_label_coords(0.5, -0.125)
    ax.yaxis.set_label_coords(-0.12, 0.5)

def draw(ax, t, series):
    for y, m, lab in zip(series, markers, labels):
        ax.plot(t, y, linestyle='none', marker=m, markersize=9,
                markerfacecolor='none', markeredgecolor='black',
                markeredgewidth=1.0, label=lab)

def legend(ax, x, y):
    leg = ax.legend(loc='upper left', bbox_to_anchor=(x, y), borderaxespad=0,
                    frameon=True, fancybox=False, edgecolor='black', framealpha=1,
                    fontsize=12, handlelength=2.4, handletextpad=0.5,
                    borderpad=0.7, labelspacing=0.25)
    leg.get_frame().set_linewidth(1.0)
    for h in leg.legend_handles:
        h.set_markeredgewidth(0.8)
        h.set_markersize(8.5)

# (a)
draw(ax_a, time_ads, [a_3A, a_4A, a_5A, a_13X])
style(ax_a, (0, 80), (-0.05, 1.05), [0, 0.2, 0.4, 0.6, 0.8, 1.0])
ax_a.text(7.7, 0.876, '(a)', fontsize=13, fontweight='bold', ha='center', va='center')
ax_a.text(50.9, 0.4375, 'First cycle\n3 bar adsorption', fontsize=13,
          fontweight='bold', ha='left', va='center')
legend(ax_a, 0.638, 0.362)

# (b)
ax_b.axvline(0, color='black', linestyle=(0, (4, 2)), linewidth=1.3, zorder=1.5)
draw(ax_b, time_des, [b_3A, b_4A, b_5A, b_13X])
style(ax_b, (-10, 80), (-0.05, 1.25), [0, 0.2, 0.4, 0.6, 0.8, 1.0, 1.2])
ax_b.text(-5.0, 1.157, '(b)', fontsize=13, fontweight='bold', ha='center', va='center')
ax_b.text(47.4, 1.13, 'First cycle\n3 bar desorption', fontsize=13,
          fontweight='bold', ha='left', va='center')
legend(ax_b, 0.623, 0.822)

# (c)
draw(ax_c, time_ads, [c_3A, c_4A, c_5A, c_13X])
style(ax_c, (0, 80), (-0.05, 1.15), [0, 0.2, 0.4, 0.6, 0.8, 1.0])
ax_c.text(7.1, 0.926, '(c)', fontsize=13, fontweight='bold', ha='center', va='center')
ax_c.text(51.4, 0.488, 'Second cycle\n3 bar adsorption', fontsize=13,
          fontweight='bold', ha='left', va='center')
legend(ax_c, 0.636, 0.362)

fig.savefig('out.png', dpi=100)
